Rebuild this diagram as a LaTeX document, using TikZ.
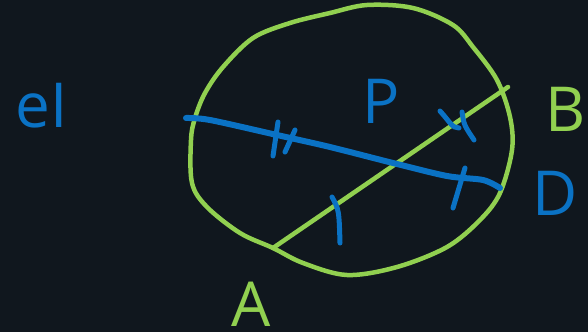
\documentclass[tikz,border=0pt]{standalone}
\usepackage{fontspec}
\setmainfont{Open Sans}
\definecolor{bgc}{RGB}{16,23,30}
\definecolor{grn}{RGB}{145,208,80}
\definecolor{blu}{RGB}{10,114,196}
\begin{document}
\begin{tikzpicture}[x=1pt,y=-1pt,line cap=round,line join=round,
  greenpen/.style={draw=grn,line width=4.5pt},
  bluepen/.style={draw=blu,line width=6pt},
  tickpen/.style={draw=blu,line width=5pt},
  lbl/.style={font=\fontsize{62}{62}\selectfont,inner sep=0pt,anchor=base,text depth=0pt}]
\fill[bgc] (0,0) rectangle (588,332);
\useasboundingbox (0,0) rectangle (588,332);
% circle
\draw[greenpen] plot[smooth cycle,tension=0.55] coordinates {
 (195,118) (205,93) (223,67) (253,38) (290,23) (330,13) (367,5) (413,8)
 (453,25) (473,47) (497,80) (510,117) (512,150) (500,193) (480,220)
 (447,247) (397,267) (347,275) (303,263) (273,248) (240,233) (207,207)
 (192,183) (191,140)};
% chord AB
\coordinate (Aend) at (273,248);
\coordinate (Bend) at (508,87);
\draw[greenpen] (Aend) -- (Bend);
% chord CD
\coordinate (Cend) at (186,118);
\coordinate (Dend) at (500,188);
\draw[bluepen] plot[smooth,tension=0.5] coordinates {(Cend) (210,120) (277,135) (330,147) (393,163) (447,176) (483,180) (Dend)};
% ticks
\draw[tickpen] (278,122) -- (273,156);
\draw[tickpen] (295,130) -- (285,152);
\draw[tickpen] (332,197) .. controls (339,210) .. (340,243);
\draw[tickpen] (465,168) -- (453,208);
\draw[tickpen] (440,111) .. controls (450,122) and (452,128) .. (459,128);
\draw[tickpen] (462,112) .. controls (464,125) .. (474,140);
% labels
\node[lbl,text=blu] (lC) at (42,127) {eI};
\node[lbl,text=blu] (lP) at (381,123) {P};
\node[lbl,text=grn] (lB) at (566,131) {B};
\node[lbl,text=blu] (lD) at (555,215) {D};
\node[lbl,text=grn] (lA) at (251,326) {A};
\end{tikzpicture}
\end{document}
